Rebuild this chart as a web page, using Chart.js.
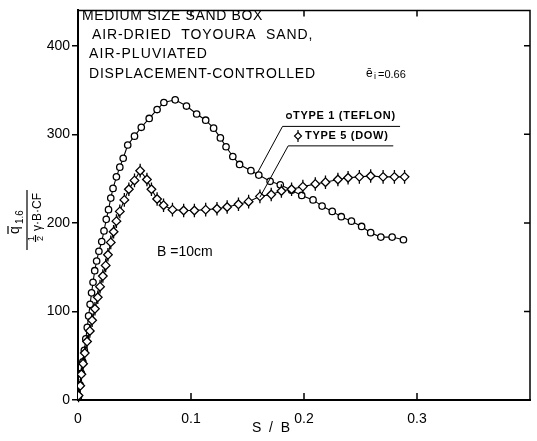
<!DOCTYPE html>
<html lang="en">
<head>
<meta charset="UTF-8" />
<title>Medium size sand box - bearing capacity</title>
<script src="https://cdn.jsdelivr.net/npm/chart.js"></script>
<style>
  body { margin: 0; background: #ffffff; }
  #wrap { width: 537px; height: 441px; }
</style>
</head>
<body>
<div id="wrap"><canvas id="chart" width="537" height="441"></canvas></div>
<script>
  // TYPE 1 (TEFLON) - circles
  const type1S = [0.0005, 0.0018, 0.003, 0.0043, 0.0056, 0.0069, 0.0082, 0.0094, 0.0107, 0.012, 0.0133,
    0.0148, 0.0165, 0.0185, 0.021, 0.023, 0.025, 0.027, 0.029, 0.031, 0.034, 0.037, 0.040, 0.044, 0.050,
    0.056, 0.063, 0.070, 0.076, 0.086, 0.096, 0.105, 0.113, 0.120, 0.126, 0.131, 0.137, 0.143, 0.153,
    0.160, 0.170, 0.179, 0.189, 0.198, 0.208, 0.216, 0.225, 0.233, 0.242, 0.251, 0.259, 0.268, 0.278, 0.288];
  const type1Q = [4, 17, 30, 43, 56, 69, 82, 95, 108, 121, 133,
    146, 157, 168, 179, 191, 204, 215, 228, 239, 252, 263, 273, 288, 298,
    308, 318, 328, 336, 339, 332, 323, 316, 307, 296, 286, 275, 266, 259,
    254, 247, 243, 237, 231, 226, 219, 213, 207, 202, 196, 189, 184, 184, 181];

  // TYPE 5 (DOW) - diamonds
  const type5S = [0.0005, 0.002, 0.003, 0.0045, 0.006, 0.008, 0.0105, 0.0125, 0.015, 0.0175, 0.0195,
    0.022, 0.0245, 0.0265, 0.029, 0.0315, 0.034, 0.037, 0.041, 0.045, 0.050, 0.055, 0.061, 0.065, 0.070,
    0.0757, 0.0836, 0.0935, 0.103, 0.113, 0.123, 0.132, 0.142, 0.151, 0.161, 0.171, 0.180, 0.189, 0.199,
    0.210, 0.219, 0.230, 0.239, 0.249, 0.259, 0.270, 0.280, 0.289];
  const type5Q = [5, 16, 29, 41, 53, 66, 78, 90, 103, 116, 128,
    140, 152, 164, 178, 190, 202, 213, 226, 238, 248, 259, 249, 238, 227,
    220, 215, 214, 214, 215, 216, 218, 221, 224, 230, 232, 236, 238, 241,
    244, 246, 249, 251, 252, 253, 252, 252, 252];

  const xTicks = [0, 0.1, 0.2, 0.3];
  const xTickLabels = ['0', '0.1', '0.2', '0.3'];
  const yTicks = [0, 100, 200, 300, 400];

  const FONT = '"Liberation Sans", Arial, sans-serif';
  const DIAMOND_R = 4.3;

  function spaced(ctx, text, x, y, spacing) {
    ctx.letterSpacing = spacing + 'px';
    ctx.fillText(text, x, y);
    ctx.letterSpacing = '0px';
  }

  function drawDiamond(ctx, cx, cy, r) {
    ctx.beginPath();
    ctx.moveTo(cx, cy - r); ctx.lineTo(cx + r, cy); ctx.lineTo(cx, cy + r); ctx.lineTo(cx - r, cy);
    ctx.closePath();
    ctx.fill(); ctx.stroke();
    ctx.beginPath();
    ctx.moveTo(cx, cy - r - 2.5); ctx.lineTo(cx, cy - r);
    ctx.moveTo(cx, cy + r); ctx.lineTo(cx, cy + r + 2.5);
    ctx.stroke();
  }

  // little vertical stems on the diamond markers
  const stems = {
    id: 'stems',
    afterDatasetsDraw(chart) {
      const ctx = chart.ctx;
      const meta = chart.getDatasetMeta(0);
      ctx.save();
      ctx.strokeStyle = '#000';
      ctx.lineWidth = 1.3;
      ctx.beginPath();
      meta.data.forEach(pt => {
        ctx.moveTo(pt.x, pt.y - DIAMOND_R - 2.5); ctx.lineTo(pt.x, pt.y - DIAMOND_R);
        ctx.moveTo(pt.x, pt.y + DIAMOND_R); ctx.lineTo(pt.x, pt.y + DIAMOND_R + 2.5);
      });
      ctx.stroke();
      ctx.restore();
    }
  };

  const decor = {
    id: 'decor',
    afterDraw(chart) {
      const { ctx, chartArea: a, scales: { x, y } } = chart;
      ctx.save();
      ctx.strokeStyle = '#000';
      ctx.fillStyle = '#000';

      // frame top + right
      ctx.lineWidth = 1.5;
      ctx.beginPath();
      ctx.moveTo(a.left, a.top); ctx.lineTo(a.right, a.top); ctx.lineTo(a.right, a.bottom);
      ctx.stroke();

      // inward ticks
      ctx.beginPath();
      xTicks.slice(1).forEach(v => {
        const px = x.getPixelForValue(v);
        ctx.moveTo(px, a.bottom); ctx.lineTo(px, a.bottom - 7);
        ctx.moveTo(px, a.top); ctx.lineTo(px, a.top + 6);
      });
      yTicks.slice(1).forEach(v => {
        const py = y.getPixelForValue(v);
        ctx.moveTo(a.right, py); ctx.lineTo(a.right - 6, py);
      });
      ctx.stroke();

      // header text
      ctx.textBaseline = 'middle';
      ctx.textAlign = 'left';
      ctx.font = '14px ' + FONT;
      spaced(ctx, 'MEDIUM SIZE SAND BOX', 82, 16, 0.65);
      spaced(ctx, 'AIR-DRIED  TOYOURA  SAND,', 92, 35, 0.9);
      spaced(ctx, 'AIR-PLUVIATED', 89, 54, 1.1);
      spaced(ctx, 'DISPLACEMENT-CONTROLLED', 89, 74, 0.8);

      // e-bar
      ctx.font = '12px ' + FONT;
      ctx.fillText('\u0113', 366, 74);
      ctx.font = '9px ' + FONT;
      ctx.fillText('i', 374, 77);
      ctx.font = '11px ' + FONT;
      ctx.fillText('=0.66', 378, 75);

      // legend labels with leaders
      ctx.lineWidth = 1;
      ctx.font = 'bold 11px ' + FONT;
      spaced(ctx, 'TYPE 1 (TEFLON)', 293, 116, 0.7);
      spaced(ctx, 'TYPE 5 (DOW)', 305, 136, 0.7);
      ctx.beginPath();
      ctx.moveTo(x.getPixelForValue(0.159), y.getPixelForValue(257));
      ctx.lineTo(x.getPixelForValue(0.181), y.getPixelForValue(309));
      ctx.lineTo(x.getPixelForValue(0.285), y.getPixelForValue(309));
      ctx.moveTo(x.getPixelForValue(0.161), y.getPixelForValue(229));
      ctx.lineTo(x.getPixelForValue(0.186), y.getPixelForValue(287));
      ctx.lineTo(x.getPixelForValue(0.279), y.getPixelForValue(287));
      ctx.stroke();
      ctx.lineWidth = 1.2;
      ctx.fillStyle = '#fff';
      ctx.beginPath(); ctx.arc(289, 116, 2.4, 0, Math.PI * 2); ctx.fill(); ctx.stroke();
      drawDiamond(ctx, 298, 136, 3.5);
      ctx.fillStyle = '#000';

      // B = 10cm
      ctx.font = '14px ' + FONT;
      ctx.fillText('B =10cm', 157, 252);

      // x title
      ctx.textAlign = 'center';
      ctx.fillText('S  /  B', 271, 428);

      // y title (fraction, rotated)
      ctx.save();
      ctx.translate(27, 222);
      ctx.rotate(-Math.PI / 2);
      ctx.lineWidth = 1.2;
      ctx.beginPath(); ctx.moveTo(-28, 0); ctx.lineTo(32, 0); ctx.stroke();
      ctx.textAlign = 'left';
      ctx.textBaseline = 'alphabetic';
      ctx.font = '14px ' + FONT;
      ctx.fillText('q', -12, -8);
      ctx.beginPath(); ctx.moveTo(-12, -19); ctx.lineTo(-4, -19); ctx.stroke();
      ctx.font = '10px ' + FONT;
      ctx.fillText('1.6', -2, -4);
      // denominator: 1/2 γ·B·CF
      ctx.font = '9px ' + FONT;
      ctx.fillText('1', -19, 7);
      ctx.fillText('2', -19, 16);
      ctx.beginPath(); ctx.moveTo(-20, 8.5); ctx.lineTo(-13, 8.5); ctx.stroke();
      ctx.font = '12px ' + FONT;
      ctx.fillText('\u03b3\u00b7B\u00b7CF', -9, 14);
      ctx.restore();

      ctx.restore();
    }
  };

  const ctx = document.getElementById('chart').getContext('2d');
  new Chart(ctx, {
    type: 'scatter',
    data: {
      datasets: [
        {
          label: 'TYPE 5 (DOW)',
          data: type5S.map((s, i) => ({ x: s, y: type5Q[i] })),
          showLine: true,
          borderColor: '#000',
          borderWidth: 1.1,
          pointStyle: 'rectRot',
          pointRadius: DIAMOND_R,
          pointBorderWidth: 1.3,
          pointBorderColor: '#000',
          pointBackgroundColor: '#fff',
          tension: 0
        },
        {
          label: 'TYPE 1 (TEFLON)',
          data: type1S.map((s, i) => ({ x: s, y: type1Q[i] })),
          showLine: true,
          borderColor: '#000',
          borderWidth: 1.1,
          pointStyle: 'circle',
          pointRadius: 3.2,
          pointBorderWidth: 1.3,
          pointBorderColor: '#000',
          pointBackgroundColor: '#fff',
          tension: 0
        }
      ]
    },
    options: {
      responsive: false,
      animation: false,
      layout: { padding: { top: 5, right: 7, left: 0, bottom: 0 } },
      plugins: {
        legend: { display: false },
        tooltip: { enabled: false }
      },
      scales: {
        x: {
          type: 'linear',
          min: 0,
          max: 0.4,
          afterFit: s => { s.height = 41; },
          afterBuildTicks: s => { s.ticks = xTicks.map(v => ({ value: v })); },
          grid: { display: false },
          border: { display: true, color: '#000', width: 2 },
          ticks: {
            color: '#000',
            padding: 3,
            font: { family: FONT, size: 14 },
            callback: v => xTickLabels[xTicks.indexOf(v)]
          }
        },
        y: {
          min: 0,
          max: 440,
          afterFit: s => { s.width = 78; },
          afterBuildTicks: s => { s.ticks = yTicks.map(v => ({ value: v })); },
          grid: { drawOnChartArea: false, drawTicks: true, tickLength: 6, color: '#000', lineWidth: 1.5 },
          border: { display: true, color: '#000', width: 2 },
          ticks: {
            color: '#000',
            padding: 2,
            font: { family: FONT, size: 14 }
          }
        }
      }
    },
    plugins: [stems, decor]
  });
</script>
</body>
</html>
